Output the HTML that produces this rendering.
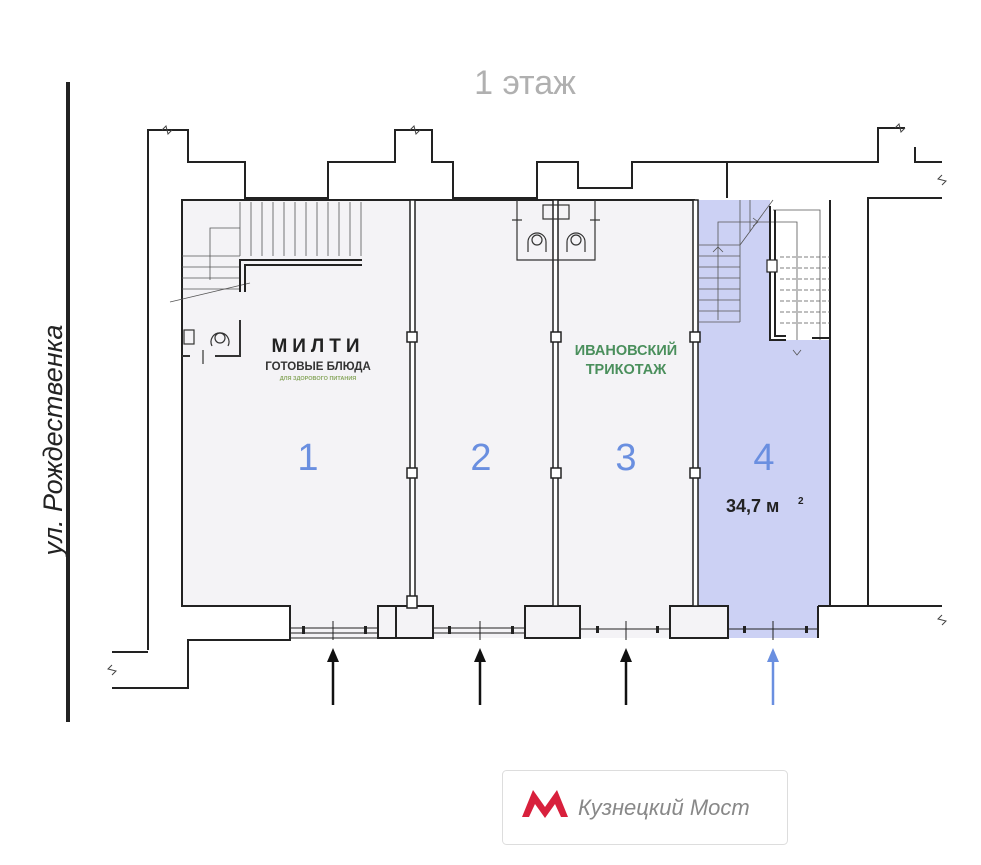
<!DOCTYPE html>
<html><head><meta charset="utf-8"><style>
html,body{margin:0;padding:0;background:#fff;width:981px;height:865px;overflow:hidden}
svg{display:block}
</style></head><body>
<svg width="981" height="865" viewBox="0 0 981 865" xmlns="http://www.w3.org/2000/svg" font-family="Liberation Sans, sans-serif">
<rect width="981" height="865" fill="#fff"/>
<text x="525" y="94" font-size="34" fill="#b0b0b0" text-anchor="middle">1 этаж</text>
<line x1="68" y1="82" x2="68" y2="722" stroke="#222" stroke-width="4"/>
<text transform="translate(62,440) rotate(-90)" font-size="27" font-style="italic" fill="#222" text-anchor="middle">ул. Рождественка</text>

<polygon points="182,200 695,200 695,606 670,606 670,638 290,638 290,606 182,606" fill="#f4f3f6"/>
<polygon points="698,200 770,200 770,340 830,340 830,606 818,606 818,638 728,638 728,606 698,606" fill="#ccd1f4"/>
<rect x="290" y="606" width="528" height="32" fill="#f4f3f6"/>
<rect x="728" y="606" width="90" height="32" fill="#ccd1f4"/>

<g fill="none" stroke="#222" stroke-width="2">
<polyline points="148,650 148,130 188,130 188,162 245,162 245,198 328,198 328,162 395,162 395,130 432,130 432,162 453,162 453,198 537,198 537,162 578,162 578,188 632,188 632,162 727,162 727,198"/>
<polyline points="727,162 878,162 878,128 905,128"/>
<polyline points="915,147 915,162 942,162"/>
<polyline points="942,198 868,198 868,606 942,606"/>
<polyline points="112,652 148,652"/>
<polyline points="112,688 188,688 188,640 290,640 290,606 182,606 182,200 695,200"/>
<line x1="245" y1="198" x2="328" y2="198"/>
<line x1="453" y1="198" x2="537" y2="198"/>
<line x1="830" y1="200" x2="830" y2="606"/>
<line x1="818" y1="606" x2="868" y2="606"/>
<line x1="818" y1="606" x2="818" y2="638"/>
<rect x="378" y="606" width="55" height="32"/>
<line x1="396" y1="606" x2="396" y2="638"/>
<rect x="525" y="606" width="55" height="32"/>
<rect x="670" y="606" width="58" height="32"/>
<line x1="290" y1="638" x2="378" y2="638" stroke-width="1"/>
</g>
<g fill="none" stroke="#444" stroke-width="1">
<polyline points="162,130 166,126 168,134 172,130"/>
<polyline points="410,130 414,126 416,134 420,130"/>
<polyline points="895,128 899,124 901,132 905,128"/>
<polyline points="942,175 938,179 946,181 942,185"/>
<polyline points="942,615 938,619 946,621 942,625"/>
<polyline points="112,665 108,669 116,671 112,675"/>
</g>
<g fill="#fff" stroke="#222" stroke-width="1.5">
<rect x="410" y="200" width="5" height="406"/>
<rect x="553" y="200" width="5" height="406"/>
<rect x="693" y="200" width="5" height="406"/>
<rect x="407" y="332" width="10" height="10"/><rect x="407" y="468" width="10" height="10"/><rect x="407" y="596" width="10" height="12"/>
<rect x="551" y="332" width="10" height="10"/><rect x="551" y="468" width="10" height="10"/>
<rect x="690" y="332" width="10" height="10"/><rect x="690" y="468" width="10" height="10"/>
</g>
<g stroke="#222" stroke-width="1">
<line x1="290" y1="628" x2="378" y2="628"/><line x1="290" y1="633" x2="378" y2="633"/>
<line x1="433" y1="628" x2="525" y2="628"/><line x1="433" y1="633" x2="525" y2="633"/>
<line x1="580" y1="629" x2="670" y2="629"/>
<line x1="728" y1="629" x2="818" y2="629"/>
<line x1="333" y1="621" x2="333" y2="640"/><line x1="480" y1="621" x2="480" y2="640"/>
<line x1="626" y1="621" x2="626" y2="640"/><line x1="773" y1="621" x2="773" y2="640"/>
</g>
<g fill="#222"><rect x="302" y="626" width="3" height="8"/><rect x="364" y="626" width="3" height="8"/><rect x="448" y="626" width="3" height="8"/><rect x="511" y="626" width="3" height="8"/><rect x="596" y="626" width="3" height="7"/><rect x="656" y="626" width="3" height="7"/><rect x="743" y="626" width="3" height="7"/><rect x="805" y="626" width="3" height="7"/></g>
<g stroke="#111" stroke-width="2.5"><line x1="333" y1="705" x2="333" y2="660"/><line x1="480" y1="705" x2="480" y2="660"/><line x1="626" y1="705" x2="626" y2="660"/></g>
<g fill="#111"><polygon points="327,662 333,648 339,662"/><polygon points="474,662 480,648 486,662"/><polygon points="620,662 626,648 632,662"/></g>
<line x1="773" y1="705" x2="773" y2="660" stroke="#6a8fe0" stroke-width="2.5"/>
<polygon points="767,662 773,648 779,662" fill="#6a8fe0"/>

<g stroke="#555" stroke-width="0.8" fill="none">
<path d="M240,202 V256 M251,202V256 M262,202V256 M273,202V256 M284,202V256 M295,202V256 M306,202V256 M317,202V256 M328,202V256 M339,202V256 M350,202V256 M361,202V256"/>
<path d="M182,256 H240 M182,267H240 M182,278H240 M182,289H240"/>
<path d="M210,280 V228 H240"/>
<path d="M170,302 L250,283"/>
</g>
<g fill="none" stroke="#222" stroke-width="2"><polyline points="240,292 240,260 362,260"/><polyline points="245,292 245,265 362,265"/></g>
<g fill="none" stroke="#333" stroke-width="1.2">
<rect x="184" y="330" width="10" height="14"/><circle cx="220" cy="338" r="5"/><path d="M212,346 a9,9 0 1 1 16,0"/>
<polyline points="182,356 190,356" stroke-width="2"/><polyline points="215,356 240,356 240,320" stroke-width="2"/>
<line x1="203" y1="350" x2="203" y2="364"/>
</g>
<g fill="none" stroke="#333" stroke-width="1.2">
<polyline points="517,200 517,260 595,260 595,200"/>
<rect x="543" y="205" width="26" height="14"/>
<circle cx="537" cy="240" r="5"/><path d="M528,252 v-10 a9,9 0 1 1 18,0 v10"/>
<circle cx="576" cy="240" r="5"/><path d="M567,252 v-10 a9,9 0 1 1 18,0 v10"/>
<line x1="512" y1="220" x2="522" y2="220"/><line x1="590" y1="220" x2="600" y2="220"/>
</g>
<rect x="771" y="200" width="58" height="140" fill="#fff"/>
<g stroke="#555" stroke-width="0.8" fill="none">
<path d="M698,245 H740 M698,256H740 M698,267H740 M698,278H740 M698,289H740 M698,300H740 M698,311H740 M698,322H740"/>
<line x1="740" y1="200" x2="740" y2="322"/>
<line x1="740" y1="245" x2="773" y2="200"/>
<path d="M718,320 V222 H797 V340"/>
<path d="M750,200 V232 M773,210 H820 V340"/>
<path d="M780,257H830 M780,268H830 M780,279H830 M780,290H830 M780,301H830 M780,312H830 M780,323H830" stroke-dasharray="4,2"/>
<path d="M713,252 l5,-5 l5,5 M753,218 l5,4 l-5,4 M793,350 l4,5 l4,-5"/>
</g>
<g fill="none" stroke="#222" stroke-width="2"><polyline points="770,206 770,340 786,340"/><polyline points="775,210 775,336 786,336"/><polyline points="812,338 830,338"/></g>
<rect x="767" y="260" width="10" height="12" fill="#fff" stroke="#222" stroke-width="1.2"/>

<text x="318" y="352" font-size="19" font-weight="bold" fill="#222" text-anchor="middle" letter-spacing="5">МИЛТИ</text>
<text x="318" y="370" font-size="11.5" font-weight="bold" fill="#333" text-anchor="middle">ГОТОВЫЕ БЛЮДА</text>
<text x="318" y="380" font-size="5.5" font-weight="bold" fill="#8aa860" text-anchor="middle">ДЛЯ ЗДОРОВОГО ПИТАНИЯ</text>
<text x="626" y="355" font-size="14.5" font-weight="bold" fill="#4a8f5c" text-anchor="middle">ИВАНОВСКИЙ</text>
<text x="626" y="374" font-size="14.5" font-weight="bold" fill="#4a8f5c" text-anchor="middle">ТРИКОТАЖ</text>
<g font-size="38" fill="#6a8fe0" text-anchor="middle"><text x="308" y="470">1</text><text x="481" y="470">2</text><text x="626" y="470">3</text><text x="764" y="470">4</text></g>
<text x="726" y="512" font-size="18" font-weight="bold" fill="#222">34,7 м</text>
<text x="798" y="504" font-size="10" font-weight="bold" fill="#222">2</text>

<rect x="502.5" y="770.5" width="285" height="74" rx="4" fill="#fff" stroke="#ddd"/>
<polygon points="522,817 533,790 545,807 557,790 568,817 561,817 555,804 545,818 535,804 529,817" fill="#d8203c"/>
<text x="578" y="815" font-size="22" font-style="italic" fill="#888">Кузнецкий Мост</text>
</svg>
</body></html>
